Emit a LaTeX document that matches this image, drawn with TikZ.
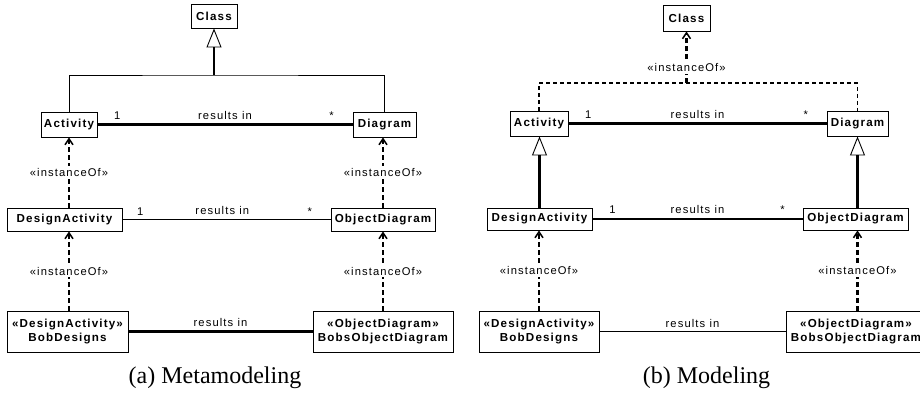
\documentclass[tikz,border=0pt]{standalone}
\usepackage{fontspec}
\newfontfamily\umlfont{Liberation Sans}[LetterSpace=10]
\newfontfamily\capfont{Liberation Serif}
\usetikzlibrary{arrows.meta}

\begin{document}
\begin{tikzpicture}[x=1pt,y=-1pt,
  box/.style={draw, line width=0.9pt, inner sep=0pt, align=center,
    font=\fontsize{11.6}{14.5}\selectfont\umlfont\bfseries},
  lbl/.style={inner sep=1pt, font=\fontsize{11.2}{13}\selectfont\umlfont},
  mult/.style={lbl, above=3pt},
  stereo/.style={lbl, fill=white, inner sep=2pt},
  strong/.style={line width=2.1pt},
  weak/.style={line width=0.8pt},
  gen/.style={line width=2.1pt, -{Triangle[open, length=19pt, width=15pt, line width=0.9pt]}},
  inst/.style={line width=2.1pt, dash pattern=on 5pt off 3pt,
    -{Straight Barb[length=6pt, width=8pt, line width=1.5pt]}},
  instthin/.style={line width=1.2pt, dash pattern=on 4pt off 3pt},
  caption/.style={inner sep=0pt, anchor=base, font=\fontsize{24}{28}\selectfont\capfont}
]
\useasboundingbox (0,0) rectangle (920,392);

% ---------- (a) Metamodeling ----------
\node[box, minimum width=46pt, minimum height=24pt] (cls) at (214,16) {Class};
\node[box, minimum width=56pt, minimum height=25pt] (act) at (69,124.5) {Activity};
\node[box, minimum width=63pt, minimum height=25pt] (dia) at (384.5,124.5) {Diagram};
\node[box, minimum width=115pt, minimum height=23pt] (dact) at (64.5,219.5) {DesignActivity};
\node[box, minimum width=104pt, minimum height=23pt] (odia) at (383,219.5) {ObjectDiagram};
\node[box, minimum width=121pt, minimum height=41pt] (bob) at (67.5,331.5) {«DesignActivity»\\BobDesigns};
\node[box, minimum width=140pt, minimum height=41pt] (bobs) at (383,331.5) {«ObjectDiagram»\\BobsObjectDiagram};

\coordinate (j) at (214,75);
\draw[gen] (j) -- (cls.south);
\draw[weak] (act.north) |- (j) -| (dia.north);

\draw[strong] (act) -- (dia)
  node[mult, pos=0.078] {1}
  node[mult, pos=0.5] {results in}
  node[mult, pos=0.918] {*};
\draw[weak] (dact) -- (odia)
  node[mult, pos=0.086] {1}
  node[mult, pos=0.48] {results in}
  node[mult, pos=0.9] {*};
\draw[strong] (bob) -- (bobs)
  node[mult, pos=0.5] {results in};

\draw[inst] (dact.north -| act.south) -- (act.south)
  node[stereo, midway] {«instanceOf»};
\draw[inst] (bob.north -| act.south) -- (dact.south -| act.south)
  node[stereo, midway] {«instanceOf»};
\draw[inst] (odia.north) -- (dia.south -| odia.north)
  node[stereo, midway] {«instanceOf»};
\draw[inst] (bobs.north) -- (odia.south)
  node[stereo, midway] {«instanceOf»};

\node[caption] (capa) at (215,383) {(a) Metamodeling};

% ---------- (b) Modeling ----------
\node[box, minimum width=47pt, minimum height=26pt] (cls2) at (686.5,18) {Class};
\node[box, minimum width=58pt, minimum height=25pt] (act2) at (539,123.5) {Activity};
\node[box, minimum width=61pt, minimum height=25pt] (dia2) at (857.5,123.5) {Diagram};
\node[box, minimum width=105pt, minimum height=22pt] (dact2) at (539.5,219) {DesignActivity};
\node[box, minimum width=105pt, minimum height=22pt] (odia2) at (855.5,219) {ObjectDiagram};
\node[box, minimum width=120pt, minimum height=41pt] (bob2) at (539,331.5) {«DesignActivity»\\BobDesigns};
\node[box, minimum width=140pt, minimum height=41pt] (bobs2) at (856,331.5) {«ObjectDiagram»\\BobsObjectDiagram};

\coordinate (j2) at (686.5,83);
\draw[instthin] (act2.north) |- (j2) -| (dia2.north);
\draw[inst] (j2) -- (cls2.south)
  node[stereo, pos=0.3] {«instanceOf»};

\draw[strong] (act2) -- (dia2)
  node[mult, pos=0.077] {1}
  node[mult, pos=0.5] {results in}
  node[mult, pos=0.92] {*};
\draw[strong] (dact2) -- (odia2)
  node[mult, pos=0.095] {1}
  node[mult, pos=0.5] {results in}
  node[mult, pos=0.905] {*};
\draw[weak] (bob2) -- (bobs2)
  node[mult, pos=0.5] {results in};

\draw[gen] (dact2.north) -- (act2.south -| dact2.north);
\draw[gen] (odia2.north -| dia2.south) -- (dia2.south);

\draw[inst] (bob2.north) -- (dact2.south -| bob2.north)
  node[stereo, midway] {«instanceOf»};
\draw[inst] (bobs2.north -| dia2.south) -- (odia2.south -| dia2.south)
  node[stereo, midway] {«instanceOf»};

\node[caption] (capb) at (706.5,383) {(b) Modeling};
\end{tikzpicture}
\end{document}
